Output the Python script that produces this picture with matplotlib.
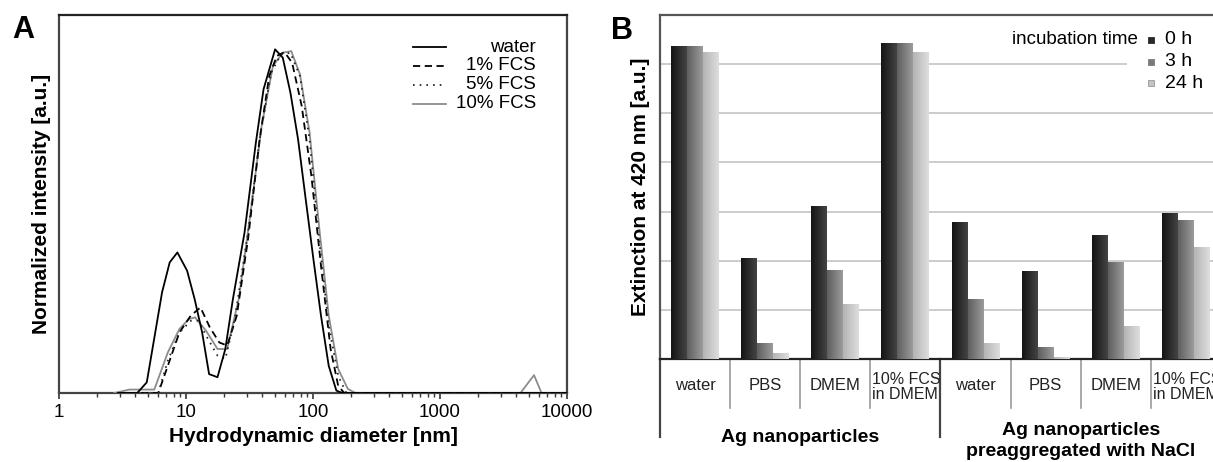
import numpy as np
import matplotlib
matplotlib.use("Agg")
import matplotlib.pyplot as plt
from matplotlib.colors import LinearSegmentedColormap
from matplotlib.lines import Line2D

plt.rcParams['font.family'] = ['Liberation Sans', 'DejaVu Sans']

# ---------------- Panel A data (DLS size distributions) ----------------
water_d = [2.9, 4.13, 4.91, 6.48, 7.44, 8.55, 10.2, 11.7, 13.4, 15.2, 17.7, 20.4, 23.4, 28.9,
           35.5, 40.8, 50.3, 57.8, 66.4, 76.3, 87.6, 100.7, 115.6, 133, 152.8, 170, 10000]
water_i = [0, 0.0, 0.031, 0.293, 0.380, 0.409, 0.356, 0.273, 0.176, 0.055, 0.046, 0.128, 0.273,
           0.467, 0.729, 0.884, 1.0, 0.976, 0.874, 0.738, 0.564, 0.390, 0.225, 0.079, 0.007, 0, 0]

fcs1_d = [2.9, 6.05, 7.19, 8.87, 10.9, 13.0, 15.4, 18.3, 21.1, 25.1, 30.8, 38.0, 45.2, 51.9,
          59.6, 68.5, 81.5, 97.1, 115.6, 137.6, 157.9, 176, 10000]
fcs1_i = [0, 0, 0.079, 0.176, 0.225, 0.249, 0.191, 0.147, 0.138, 0.225, 0.448, 0.738, 0.922,
          0.981, 0.992, 0.961, 0.835, 0.632, 0.370, 0.128, 0.021, 0, 0]

fcs5_d = [2.9, 6.05, 7.19, 8.87, 10.9, 12.5, 14.9, 17.7, 20.4, 24.2, 30.8, 38.0, 46.8, 55.9,
          66.4, 79.0, 94.0, 111.6, 133, 157.9, 183, 10000]
fcs5_i = [0, 0, 0.094, 0.176, 0.210, 0.210, 0.157, 0.109, 0.099, 0.215, 0.467, 0.738, 0.932,
          0.985, 0.990, 0.922, 0.738, 0.448, 0.196, 0.050, 0, 0]

fcs10_d = [2.72, 3.59, 5.63, 7.19, 8.87, 10.5, 11.8, 14.4, 17.7, 21.1, 26.0, 32.0, 39.4, 48.4,
           57.8, 67.4, 79.0, 94.0, 111.6, 133, 157.9, 188, 216, 4300, 5500, 6300, 10000]
fcs10_i = [0, 0.01, 0.01, 0.118, 0.186, 0.215, 0.220, 0.181, 0.128, 0.128, 0.273, 0.516, 0.777,
           0.952, 0.990, 0.995, 0.927, 0.758, 0.486, 0.225, 0.070, 0.012, 0, 0, 0.052, 0, 0]

legend_a = ["water", "1% FCS", "5% FCS", "10% FCS"]

# ---------------- Panel B data (extinction at 420 nm) ----------------
categories = ["water", "PBS", "DMEM", "10% FCS\nin DMEM",
              "water", "PBS", "DMEM", "10% FCS\nin DMEM"]
groups = ["Ag nanoparticles", "Ag nanoparticles\npreaggregated with NaCl"]
times = ["0 h", "3 h", "24 h"]
ext_0h = [6.37, 2.06, 3.12, 6.43, 2.78, 1.80, 2.53, 2.98]
ext_3h = [6.37, 0.33, 1.82, 6.43, 1.22, 0.24, 1.98, 2.82]
ext_24h = [6.24, 0.12, 1.12, 6.24, 0.33, 0.04, 0.67, 2.27]

W, H = 1213, 462
fig = plt.figure(figsize=(W / 100, H / 100), dpi=100)


def fx(px):
    return px / W


def fy(py):
    return 1 - py / H


# ======================= Panel A =======================
axA = fig.add_axes([fx(59), fy(393), fx(567) - fx(59), fy(15) - fy(393)])
axA.set_xscale('log')
axA.set_xlim(1, 10000)
axA.set_ylim(0, 1.1)

lw = 1.3
axA.plot(water_d, water_i, color='black', lw=lw, zorder=5)
axA.plot(fcs1_d, fcs1_i, color='black', lw=lw, dashes=(4, 2.5), zorder=4)
axA.plot(fcs5_d, fcs5_i, color='#222222', lw=lw, dashes=(0.9, 2.8), zorder=4)
axA.plot(fcs10_d, fcs10_i, color='#8c8c8c', lw=lw, zorder=3)

axA.set_yticks([])
axA.set_xticks([1, 10, 100, 1000, 10000])
axA.set_xticklabels(["1", "10", "100", "1000", "10000"])
axA.tick_params(axis='x', which='major', direction='out', length=4, width=1.2,
                labelsize=13.5, pad=4, color='#333333')
axA.tick_params(axis='x', which='minor', direction='out', length=3, width=1.0, color='#333333')
for s in ['left', 'right', 'top', 'bottom']:
    axA.spines[s].set_linewidth(1.6)
    axA.spines[s].set_color('#444444')
axA.spines['top'].set_color('#222222')
axA.set_xlabel("Hydrodynamic diameter [nm]", fontsize=15, fontweight='bold', labelpad=4)
axA.set_ylabel("Normalized intensity [a.u.]", fontsize=15, fontweight='bold', labelpad=6)

# legend A (text right-aligned, as in original)
styles = [dict(color='black'), dict(color='black', dashes=(4, 2.5)),
          dict(color='#222222', dashes=(0.9, 2.8)), dict(color='#8c8c8c')]
rows = [47, 66, 85, 104]
for lab, st, ry in zip(legend_a, styles, rows):
    fig.add_artist(Line2D([fx(413), fx(446)], [fy(ry), fy(ry)], lw=lw, **st))
    fig.text(fx(536), fy(ry), lab, ha='right', va='center', fontsize=13.5)

fig.text(fx(23), fy(30), "A", fontsize=22, fontweight='bold', ha='center', va='center')

# ======================= Panel B =======================
axB = fig.add_axes([fx(660), fy(359), fx(1221) - fx(660), fy(15) - fy(359)])
n = len(categories)
x = np.arange(n)
bw = 0.228
grad_cols = [('#141414', '#444444'), ('#5e5e5e', '#9c9c9c'), ('#b4b4b4', '#dedede')]
for k, vals in enumerate([ext_0h, ext_3h, ext_24h]):
    bars = axB.bar(x + (k - 1) * bw, vals, width=bw, color=grad_cols[k][1],
                   edgecolor='none', zorder=3)
    cmap = LinearSegmentedColormap.from_list('g%d' % k, list(grad_cols[k]))
    grad = np.linspace(0, 1, 64).reshape(1, -1)
    for p in bars.patches:
        x0, y0, w, h = p.get_x(), p.get_y(), p.get_width(), p.get_height()
        im = axB.imshow(grad, extent=(x0, x0 + w, y0, y0 + h), aspect='auto', cmap=cmap,
                        interpolation='bilinear', zorder=3.5)
        im.set_clip_path(p)

axB.set_xlim(-0.5, n - 0.5)
axB.set_ylim(0, 7)
axB.set_yticks(np.arange(1, 7))
axB.yaxis.grid(True, color='#c8c8c8', lw=1.3, zorder=0)
axB.set_axisbelow(True)
axB.tick_params(axis='y', length=0, labelleft=False)
axB.set_xticks([])
axB.spines['right'].set_visible(False)
axB.spines['top'].set_color('#555555')
axB.spines['top'].set_linewidth(1.6)
axB.spines['left'].set_color('#555555')
axB.spines['left'].set_linewidth(1.6)
axB.spines['bottom'].set_color('#222222')
axB.spines['bottom'].set_linewidth(1.6)
axB.set_ylabel("Extinction at 420 nm [a.u.]", fontsize=15, fontweight='bold', labelpad=7)

tr = axB.get_xaxis_transform()
ax_h = 359 - 15
for i in range(n + 1):
    xs = i - 0.5
    if i in (0, 4):
        axB.plot([xs, xs], [0, -(437 - 359) / ax_h], color='#444444', lw=1.6,
                 transform=tr, clip_on=False)
    elif i < n:
        axB.plot([xs, xs], [0, -(408 - 359) / ax_h], color='#999999', lw=1.2,
                 transform=tr, clip_on=False)
for i, c in enumerate(categories):
    if "\n" in c:
        axB.text(i - 0.5 + 0.03, -(387 - 359) / ax_h, c, transform=tr, ha='left', va='center',
                 fontsize=11.5, linespacing=1.0, color='#222222')
    else:
        axB.text(i, -(386 - 359) / ax_h, c, transform=tr, ha='center', va='center',
                 fontsize=12, color='#222222')
axB.text(1.5, -(437 - 359) / ax_h, groups[0], transform=tr, ha='center', va='center',
         fontsize=14, fontweight='bold')
axB.text(5.5, -(441 - 359) / ax_h, groups[1], transform=tr, ha='center', va='center',
         fontsize=14, fontweight='bold', linespacing=1.25)

# legend B
fig.add_artist(plt.Rectangle((fx(1127), fy(95)), fx(1213) - fx(1127), fy(25) - fy(95),
                             facecolor='white', edgecolor='none', zorder=5))
fig.text(fx(1138), fy(40), "incubation time", ha='right', va='center', fontsize=13.5, zorder=6)
leg_cols = ['#2a2a2a', '#7a7a7a', '#c4c4c4']
for t, c, ry in zip(times, leg_cols, [40, 62, 83]):
    fig.add_artist(Line2D([fx(1151)], [fy(ry)], marker='s', markersize=5, color=c,
                          markeredgecolor='#999999' if c == '#c4c4c4' else c,
                          markeredgewidth=0.6, linestyle='none', zorder=6))
    fig.text(fx(1165), fy(ry), t, ha='left', va='center', fontsize=14, zorder=6)

fig.text(fx(622), fy(31), "B", fontsize=22, fontweight='bold', ha='center', va='center')

fig.savefig("out.png", dpi=100)
